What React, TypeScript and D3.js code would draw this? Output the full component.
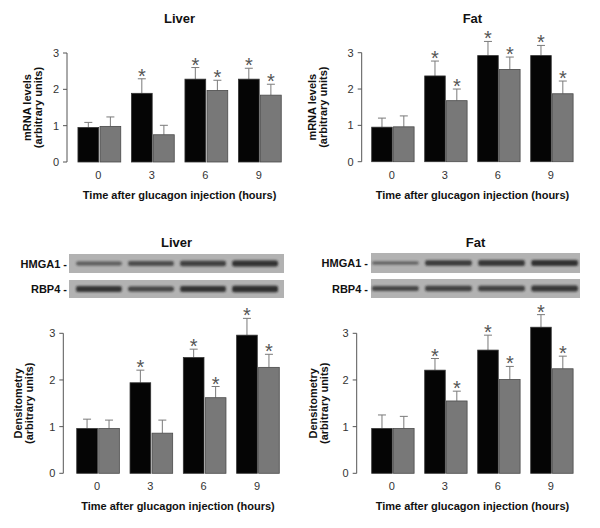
import React from "react";
import * as d3 from "d3";

const groups = ["0", "3", "6", "9"];
const series = ["black", "gray"];
const yTicks = [0, 1, 2, 3];

// Top-left: Liver mRNA
const liverMrnaBlack = [0.95, 1.89, 2.28, 2.28];
const liverMrnaBlackErr = [1.09, 2.29, 2.6, 2.58];
const liverMrnaGray = [0.98, 0.75, 1.97, 1.84];
const liverMrnaGrayErr = [1.24, 1.01, 2.25, 2.14];
const liverMrnaSigBlack = [false, true, true, true];
const liverMrnaSigGray = [false, false, true, true];

// Top-right: Fat mRNA
const fatMrnaBlack = [0.95, 2.36, 2.92, 2.92];
const fatMrnaBlackErr = [1.2, 2.77, 3.31, 3.2];
const fatMrnaGray = [0.96, 1.68, 2.54, 1.87];
const fatMrnaGrayErr = [1.26, 2.0, 2.88, 2.22];
const fatMrnaSigBlack = [false, true, true, true];
const fatMrnaSigGray = [false, true, true, true];

// Bottom-left: Liver densitometry
const liverDensBlack = [0.96, 1.94, 2.48, 2.96];
const liverDensBlackErr = [1.16, 2.21, 2.66, 3.32];
const liverDensGray = [0.96, 0.86, 1.62, 2.27];
const liverDensGrayErr = [1.14, 1.14, 1.86, 2.55];
const liverDensSigBlack = [false, true, true, true];
const liverDensSigGray = [false, false, true, true];

// Bottom-right: Fat densitometry
const fatDensBlack = [0.96, 2.21, 2.64, 3.13];
const fatDensBlackErr = [1.25, 2.46, 2.96, 3.4];
const fatDensGray = [0.96, 1.55, 2.01, 2.24];
const fatDensGrayErr = [1.22, 1.76, 2.29, 2.51];
const fatDensSigBlack = [false, true, true, true];
const fatDensSigGray = [false, true, true, true];

// Western blot band intensities (0-1)
const blotLabels = ["HMGA1 -", "RBP4 -"];
const liverHMGA1 = [0.45, 0.62, 0.76, 0.92];
const liverRBP4 = [0.88, 0.72, 0.9, 0.95];
const fatHMGA1 = [0.35, 0.8, 0.85, 0.92];
const fatRBP4 = [0.68, 0.75, 0.75, 0.86];

const FONT = "'Liberation Sans', Arial, Helvetica, sans-serif";

type PanelProps = {
  title: string;
  titleY: number;
  axisX: number;
  xRange: [number, number];
  yRange: [number, number];
  black: number[];
  blackErr: number[];
  gray: number[];
  grayErr: number[];
  sigBlack: boolean[];
  sigGray: boolean[];
  yLabel: string;
  yLabelX: number;
  showTitle: boolean;
};

function Panel(p: PanelProps) {
  const x = d3.scaleBand().domain(groups).range(p.xRange).paddingInner(0.2).paddingOuter(0.1);
  const xs = d3.scaleBand().domain(series).range([0, x.bandwidth()]).paddingInner(0.06);
  const y = d3.scaleLinear().domain([0, 3]).range(p.yRange);
  const y0 = y(0);
  const centerX = (p.xRange[0] + p.xRange[1]) / 2;
  const bars: JSX.Element[] = [];
  groups.forEach((g, i) => {
    const sets = [
      { s: "black", v: p.black[i], e: p.blackErr[i], sig: p.sigBlack[i], fill: "#050505", stroke: "#333" },
      { s: "gray", v: p.gray[i], e: p.grayErr[i], sig: p.sigGray[i], fill: "#787878", stroke: "#4a4a4a" },
    ];
    sets.forEach((d) => {
      const bx = (x(g) as number) + (xs(d.s) as number);
      const bw = xs.bandwidth();
      const cx = bx + bw / 2;
      bars.push(
        <g key={g + d.s}>
          <line x1={cx} x2={cx} y1={y(d.v)} y2={y(d.e)} stroke="#7a7a7a" strokeWidth={1} />
          <line x1={cx - 4} x2={cx + 4} y1={y(d.e)} y2={y(d.e)} stroke="#7a7a7a" strokeWidth={1} />
          <rect x={bx} y={y(d.v)} width={bw} height={y0 - y(d.v)} fill={d.fill} stroke={d.stroke} strokeWidth={0.8} />
          {d.sig && (
            <text x={cx} y={y(d.e) + 4} textAnchor="middle" fontFamily={FONT} fontSize={20} fill="#555">
              *
            </text>
          )}
        </g>
      );
    });
  });
  return (
    <g>
      {p.showTitle && (
        <text x={centerX} y={p.titleY} textAnchor="middle" fontFamily={FONT} fontWeight="bold" fontSize={13} fill="#111">
          {p.title}
        </text>
      )}
      <line x1={p.axisX} x2={p.axisX} y1={y(0)} y2={y(3)} stroke="#555" strokeWidth={1} />
      {yTicks.map((t) => (
        <g key={t}>
          <line x1={p.axisX - 4} x2={p.axisX} y1={y(t)} y2={y(t)} stroke="#555" strokeWidth={1} />
          <text x={p.axisX - 8} y={y(t) + 4} textAnchor="end" fontFamily={FONT} fontSize={11} fill="#333">
            {t}
          </text>
        </g>
      ))}
      {bars}
      {groups.map((g) => (
        <text key={g} x={(x(g) as number) + x.bandwidth() / 2 - 1} y={y0 + 17} textAnchor="middle" fontFamily={FONT} fontSize={11} fill="#333">
          {g}
        </text>
      ))}
      <text x={centerX} y={y0 + 37} textAnchor="middle" fontFamily={FONT} fontWeight="bold" fontSize={11} fill="#111">
        Time after glucagon injection (hours)
      </text>
      <text
        transform={`translate(${p.yLabelX},${(y(0) + y(3)) / 2}) rotate(-90)`}
        textAnchor="middle"
        fontFamily={FONT}
        fontWeight="bold"
        fontSize={11}
        fill="#111"
      >
        <tspan x={0} dy={0}>{p.yLabel}</tspan>
        <tspan x={0} dy={10.5}>(arbitrary units)</tspan>
      </text>
    </g>
  );
}

type BlotProps = {
  title: string;
  boxX: [number, number];
  labelX: number;
  lanes: [number, number];
  rows: number[][];
  rowY: [number, number][];
  id: string;
};

function Blot(b: BlotProps) {
  const lane = d3.scaleBand().domain(groups).range(b.lanes).paddingInner(0.12);
  const cx = (b.boxX[0] + b.boxX[1]) / 2;
  return (
    <g>
      <defs>
        <filter id={b.id} x="-20%" y="-100%" width="140%" height="300%">
          <feGaussianBlur stdDeviation="1.2" />
        </filter>
      </defs>
      <text x={cx} y={247} textAnchor="middle" fontFamily={FONT} fontWeight="bold" fontSize={13} fill="#111">
        {b.title}
      </text>
      {b.rows.map((row, r) => {
        const [t, btm] = b.rowY[r];
        const mid = (t + btm) / 2;
        return (
          <g key={r}>
            <rect x={b.boxX[0]} y={t} width={b.boxX[1] - b.boxX[0]} height={btm - t} fill="#b2b2b2" />
            <text x={b.labelX} y={mid + 4} textAnchor="end" fontFamily={FONT} fontWeight="bold" fontSize={11} fill="#111">
              {blotLabels[r]}
            </text>
            {groups.map((g, i) => {
              const v = row[i];
              const h = 2 + 4.5 * v;
              return (
                <rect
                  key={g}
                  x={lane(g) as number}
                  y={mid - h / 2}
                  width={lane.bandwidth()}
                  height={h}
                  rx={2}
                  fill="#1c1c1c"
                  opacity={0.3 + 0.6 * v}
                  filter={`url(#${b.id})`}
                />
              );
            })}
          </g>
        );
      })}
    </g>
  );
}

export default function App() {
  return (
    <div style={{ position: "fixed", left: 0, top: 0 }}>
      <svg width={600} height={528} style={{ display: "block", background: "#fff" }}>
        <Panel
          title="Liver" titleY={23} showTitle axisX={67} xRange={[72.6, 286.6]} yRange={[162, 53]}
          black={liverMrnaBlack} blackErr={liverMrnaBlackErr} gray={liverMrnaGray} grayErr={liverMrnaGrayErr}
          sigBlack={liverMrnaSigBlack} sigGray={liverMrnaSigGray} yLabel="mRNA levels" yLabelX={31}
        />
        <Panel
          title="Fat" titleY={23} showTitle axisX={361.7} xRange={[366.4, 578.4]} yRange={[161.7, 52.7]}
          black={fatMrnaBlack} blackErr={fatMrnaBlackErr} gray={fatMrnaGray} grayErr={fatMrnaGrayErr}
          sigBlack={fatMrnaSigBlack} sigGray={fatMrnaSigGray} yLabel="mRNA levels" yLabelX={316}
        />
        <Blot
          title="Liver" id="blurL" boxX={[69, 284]} labelX={67} lanes={[76, 278]}
          rows={[liverHMGA1, liverRBP4]} rowY={[[254, 273], [280, 298]]}
        />
        <Blot
          title="Fat" id="blurF" boxX={[371, 580]} labelX={368} lanes={[372, 578]}
          rows={[fatHMGA1, fatRBP4]} rowY={[[253, 273], [279, 298]]}
        />
        <Panel
          title="" titleY={0} showTitle={false} axisX={63.3} xRange={[71.4, 284.6]} yRange={[473.3, 333.3]}
          black={liverDensBlack} blackErr={liverDensBlackErr} gray={liverDensGray} grayErr={liverDensGrayErr}
          sigBlack={liverDensSigBlack} sigGray={liverDensSigGray} yLabel="Densitometry" yLabelX={22}
        />
        <Panel
          title="" titleY={0} showTitle={false} axisX={356.7} xRange={[366.4, 578.4]} yRange={[473.3, 333.3]}
          black={fatDensBlack} blackErr={fatDensBlackErr} gray={fatDensGray} grayErr={fatDensGrayErr}
          sigBlack={fatDensSigBlack} sigGray={fatDensSigGray} yLabel="Densitometry" yLabelX={317}
        />
      </svg>
    </div>
  );
}
